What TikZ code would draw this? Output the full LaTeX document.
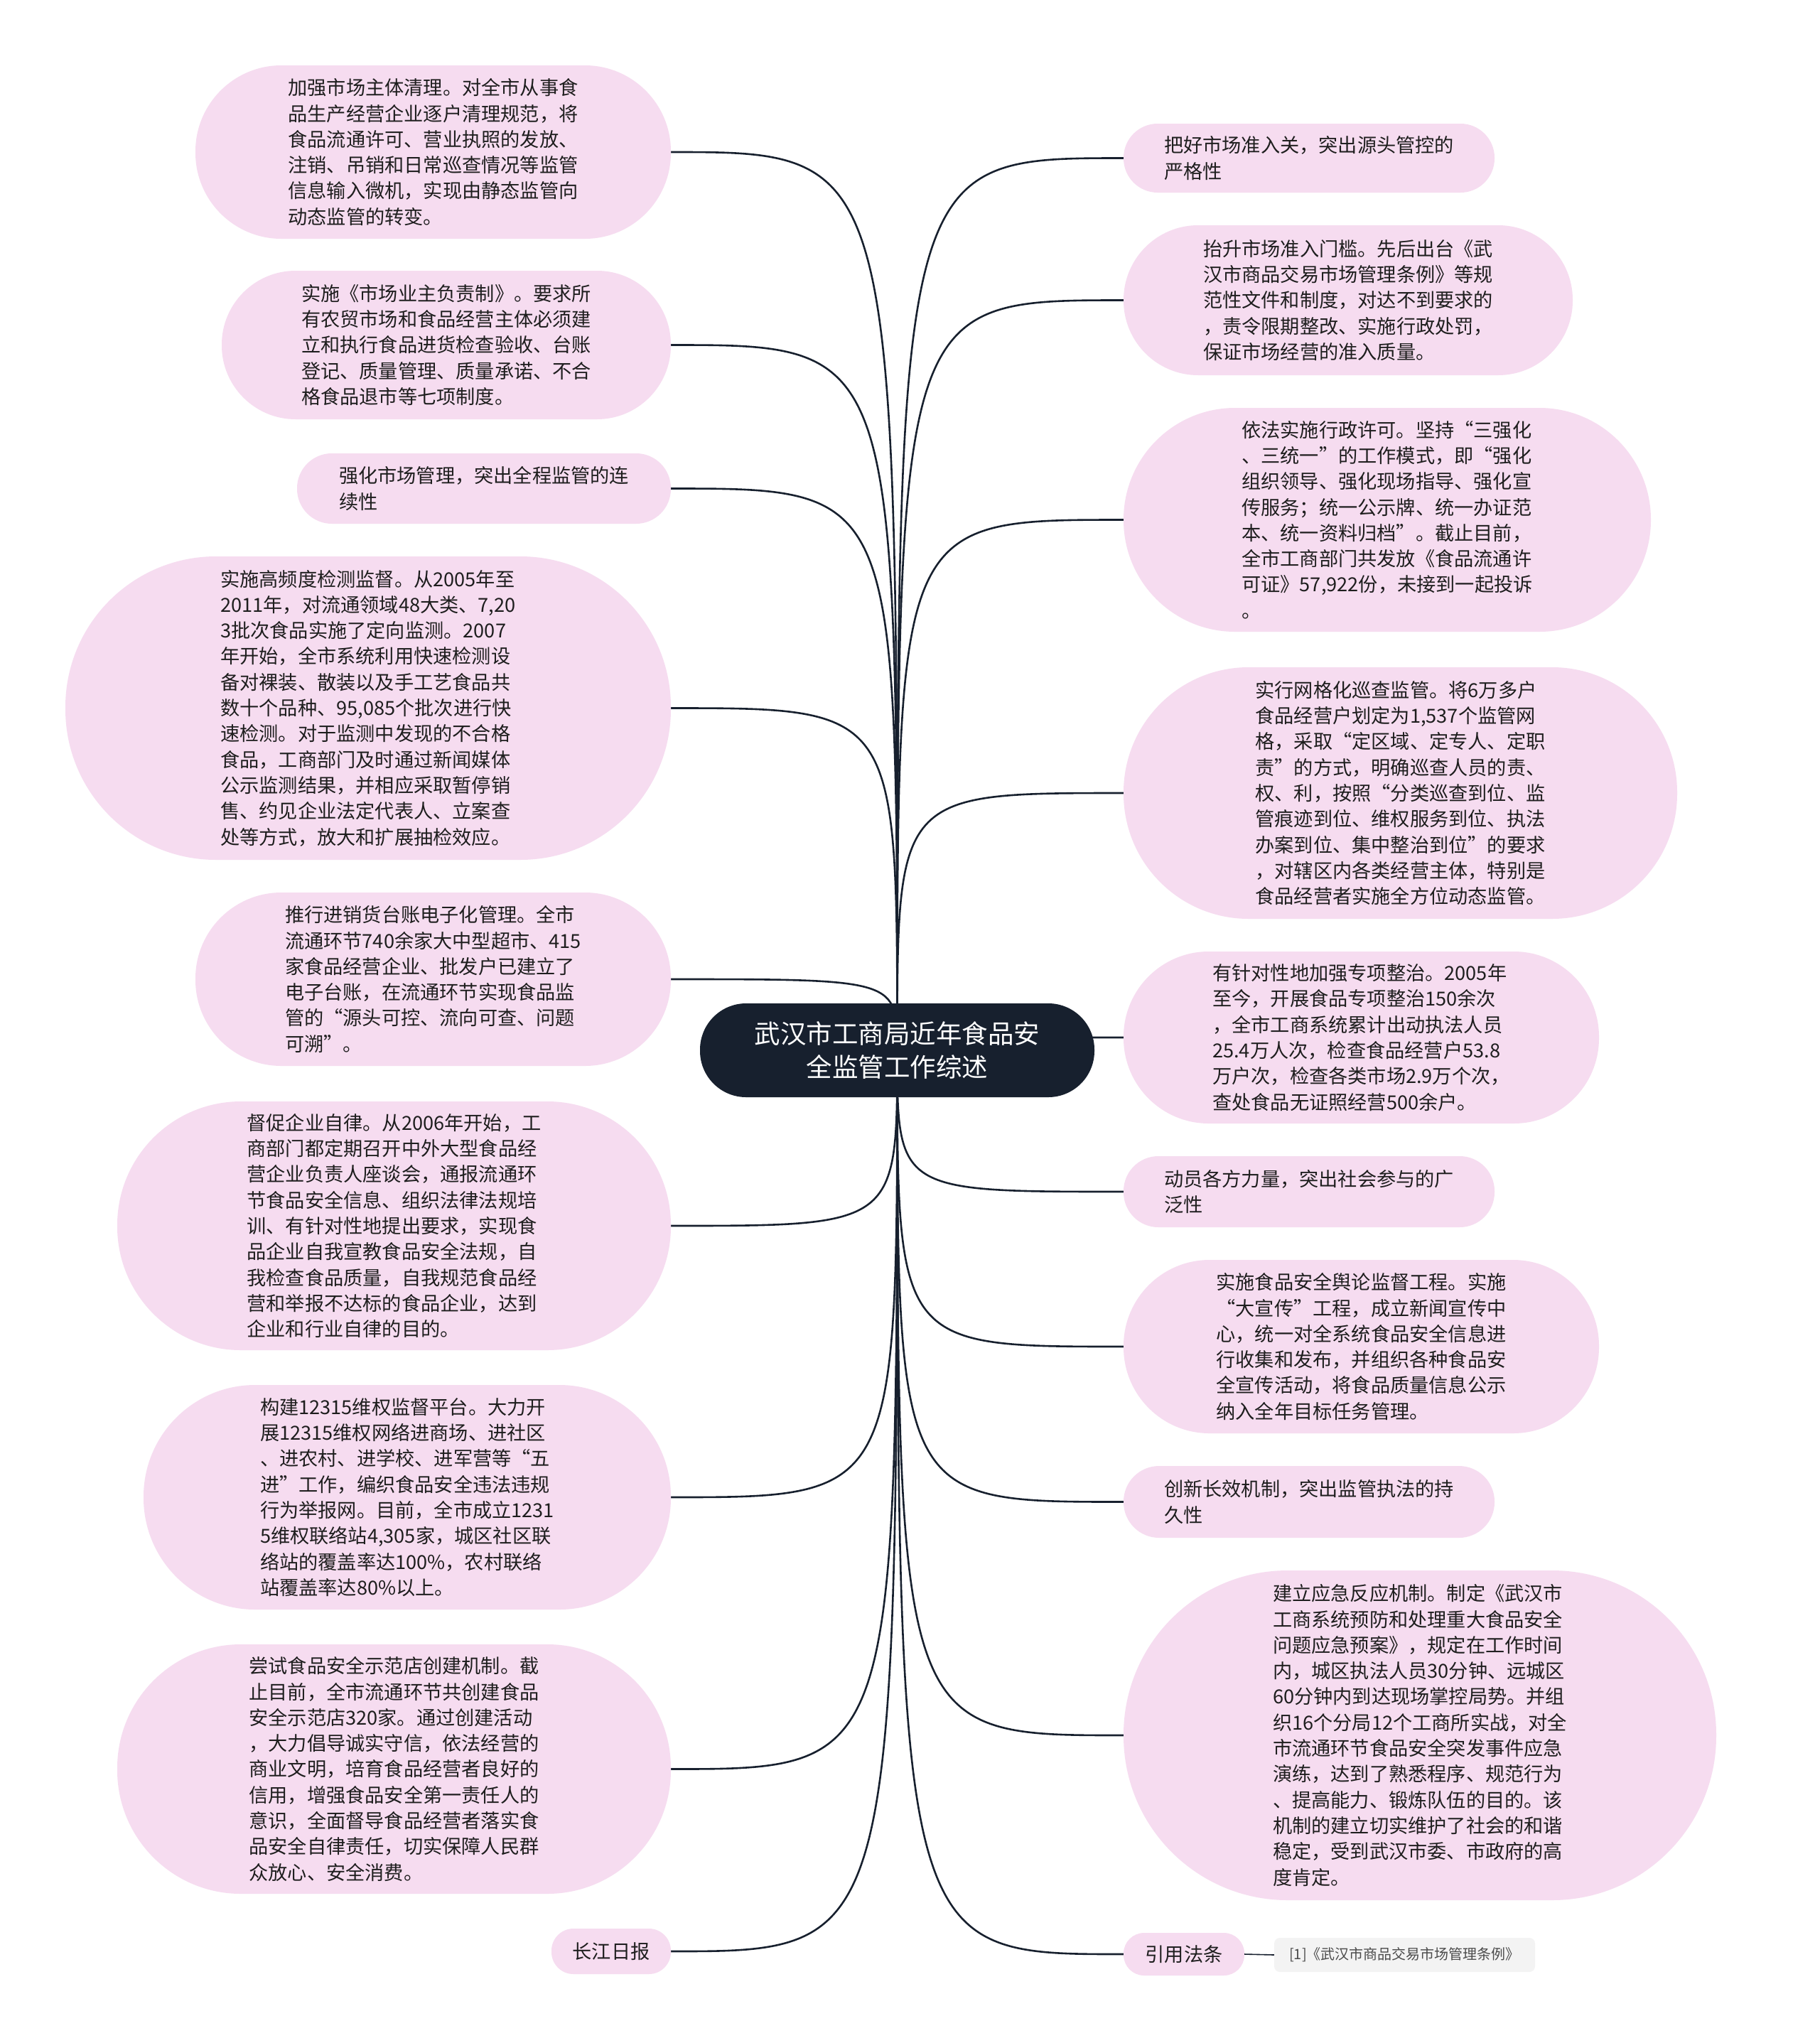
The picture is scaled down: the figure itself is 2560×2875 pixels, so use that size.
\documentclass[tikz,border=0pt]{standalone}
\usepackage{fontspec}
\setmainfont{Noto Sans CJK SC}
\usetikzlibrary{backgrounds}
\definecolor{pinkfill}{HTML}{F6DCF0}
\definecolor{navy}{HTML}{17202E}
\definecolor{txt}{HTML}{1E1E1E}
\definecolor{tagfill}{HTML}{F3F3F3}
\begin{document}
\begin{tikzpicture}[x=1pt,y=-1pt,
  leaf/.style={fill=pinkfill, text=txt, align=left, inner sep=0pt, font=\fontsize{27.2pt}{36.3pt}\selectfont},
  root/.style={fill=navy, text=white, align=center, inner sep=0pt, font=\fontsize{36.5pt}{47.7pt}\selectfont},
  link/.style={draw=navy, line width=2.6pt},
  tagbox/.style={fill=tagfill, text=txt!80, inner sep=0pt, rounded corners=8pt, font=\fontsize{20pt}{24pt}\selectfont}]
\useasboundingbox (0,0) rectangle (2560,2875);

% root
\node[root, minimum width=555pt, minimum height=132pt, rounded corners=65pt] (c) at (1262.5,1478) {武汉市工商局近年食品安\\全监管工作综述};

% left
\node[leaf, minimum width=669pt, minimum height=244pt, rounded corners=121pt] (L1) at (609.5,214) {加强市场主体清理。对全市从事食\\品生产经营企业逐户清理规范，将\\食品流通许可、营业执照的发放、\\注销、吊销和日常巡查情况等监管\\信息输入微机，实现由静态监管向\\动态监管的转变。\hspace*{0pt}};
\node[leaf, minimum width=632pt, minimum height=209pt, rounded corners=104pt] (L2) at (628,485.5) {实施《市场业主负责制》。要求所\\有农贸市场和食品经营主体必须建\\立和执行食品进货检查验收、台账\\登记、质量管理、质量承诺、不合\\格食品退市等七项制度。};
\node[leaf, minimum width=526pt, minimum height=99pt, rounded corners=49pt] (L3) at (681,687.5) {强化市场管理，突出全程监管的连\\续性};
\node[leaf, minimum width=852pt, minimum height=427pt, rounded corners=212pt] (L4) at (518,996.5) {实施高频度检测监督。从2005年至\\2011年，对流通领域48大类、7,20\\3批次食品实施了定向监测。2007\\年开始，全市系统利用快速检测设\\备对裸装、散装以及手工艺食品共\\数十个品种、95,085个批次进行快\\速检测。对于监测中发现的不合格\\食品，工商部门及时通过新闻媒体\\公示监测结果，并相应采取暂停销\\售、约见企业法定代表人、立案查\\处等方式，放大和扩展抽检效应。};
\node[leaf, minimum width=669pt, minimum height=244pt, rounded corners=121pt] (L5) at (609.5,1378) {推行进销货台账电子化管理。全市\\流通环节740余家大中型超市、415\\家食品经营企业、批发户已建立了\\电子台账，在流通环节实现食品监\\管的“源头可控、流向可查、问题\\可溯”。};
\node[leaf, minimum width=779pt, minimum height=350pt, rounded corners=174pt] (L6) at (554.5,1725) {督促企业自律。从2006年开始，工\\商部门都定期召开中外大型食品经\\营企业负责人座谈会，通报流通环\\节食品安全信息、组织法律法规培\\训、有针对性地提出要求，实现食\\品企业自我宣教食品安全法规，自\\我检查食品质量，自我规范食品经\\营和举报不达标的食品企业，达到\\企业和行业自律的目的。};
\node[leaf, minimum width=742pt, minimum height=316pt, rounded corners=157pt] (L7) at (573,2107) {构建12315维权监督平台。大力开\\展12315维权网络进商场、进社区\\、进农村、进学校、进军营等“五\\进”工作，编织食品安全违法违规\\行为举报网。目前，全市成立1231\\5维权联络站4,305家，城区社区联\\络站的覆盖率达100\%，农村联络\\站覆盖率达80\%以上。};
\node[leaf, minimum width=779pt, minimum height=351pt, rounded corners=174pt] (L8) at (554.5,2489.5) {尝试食品安全示范店创建机制。截\\止目前，全市流通环节共创建食品\\安全示范店320家。通过创建活动\\，大力倡导诚实守信，依法经营的\\商业文明，培育食品经营者良好的\\信用，增强食品安全第一责任人的\\意识，全面督导食品经营者落实食\\品安全自律责任，切实保障人民群\\众放心、安全消费。};
\node[leaf, minimum width=168pt, minimum height=64pt, rounded corners=31pt] (L9) at (860,2746) {长江日报};

% right
\node[leaf, minimum width=522pt, minimum height=97pt, rounded corners=48pt] (R1) at (1842,222.5) {把好市场准入关，突出源头管控的\\严格性};
\node[leaf, minimum width=632pt, minimum height=211pt, rounded corners=105pt] (R2) at (1897,422.5) {抬升市场准入门槛。先后出台《武\\汉市商品交易市场管理条例》等规\\范性文件和制度，对达不到要求的\\，责令限期整改、实施行政处罚，\\保证市场经营的准入质量。};
\node[leaf, minimum width=742pt, minimum height=315pt, rounded corners=157pt] (R3) at (1952,731.5) {依法实施行政许可。坚持“三强化\\、三统一”的工作模式，即“强化\\组织领导、强化现场指导、强化宣\\传服务；统一公示牌、统一办证范\\本、统一资料归档”。截止目前，\\全市工商部门共发放《食品流通许\\可证》57,922份，未接到一起投诉\\。};
\node[leaf, minimum width=779pt, minimum height=354pt, rounded corners=176pt] (R4) at (1970.5,1116) {实行网格化巡查监管。将6万多户\\食品经营户划定为1,537个监管网\\格，采取“定区域、定专人、定职\\责”的方式，明确巡查人员的责、\\权、利，按照“分类巡查到位、监\\管痕迹到位、维权服务到位、执法\\办案到位、集中整治到位”的要求\\，对辖区内各类经营主体，特别是\\食品经营者实施全方位动态监管。};
\node[leaf, minimum width=669pt, minimum height=242pt, rounded corners=120pt] (R5) at (1915.5,1460) {有针对性地加强专项整治。2005年\\至今，开展食品专项整治150余次\\，全市工商系统累计出动执法人员\\25.4万人次，检查食品经营户53.8\\万户次，检查各类市场2.9万个次，\\查处食品无证照经营500余户。};
\node[leaf, minimum width=522pt, minimum height=100pt, rounded corners=49pt] (R6) at (1842,1677) {动员各方力量，突出社会参与的广\\泛性};
\node[leaf, minimum width=669pt, minimum height=244pt, rounded corners=121pt] (R7) at (1915.5,1895) {实施食品安全舆论监督工程。实施\\“大宣传”工程，成立新闻宣传中\\心，统一对全系统食品安全信息进\\行收集和发布，并组织各种食品安\\全宣传活动，将食品质量信息公示\\纳入全年目标任务管理。};
\node[leaf, minimum width=522pt, minimum height=101pt, rounded corners=50pt] (R8) at (1842,2113.5) {创新长效机制，突出监管执法的持\\久性};
\node[leaf, minimum width=834pt, minimum height=464pt, rounded corners=231pt] (R9) at (1998,2442) {建立应急反应机制。制定《武汉市\\工商系统预防和处理重大食品安全\\问题应急预案》，规定在工作时间\\内，城区执法人员30分钟、远城区\\60分钟内到达现场掌控局势。并组\\织16个分局12个工商所实战，对全\\市流通环节食品安全突发事件应急\\演练，达到了熟悉程序、规范行为\\、提高能力、锻炼队伍的目的。该\\机制的建立切实维护了社会的和谐\\稳定，受到武汉市委、市政府的高\\度肯定。};
\node[leaf, minimum width=170pt, minimum height=60pt, rounded corners=29pt] (R10) at (1666,2750) {引用法条};
\node[tagbox, minimum width=367pt, minimum height=48pt] (tag) at (1976.5,2751) {[1]《武汉市商品交易市场管理条例》};

\begin{scope}[on background layer]
\fill[white] (0,0) rectangle (2560,2875);
\foreach \n in {L1,L2,L3,L4,L5,L6,L7,L8,L9}
  \draw[link] (c.center) .. controls (c.center |- \n.east) .. (\n.east);
\foreach \n in {R1,R2,R3,R4,R5,R6,R7,R8,R9,R10}
  \draw[link] (c.center) .. controls (c.center |- \n.west) .. (\n.west);
\end{scope}
\draw[draw=navy, line width=1.6pt] (R10.east) -- (tag.west);
\end{tikzpicture}
\end{document}
